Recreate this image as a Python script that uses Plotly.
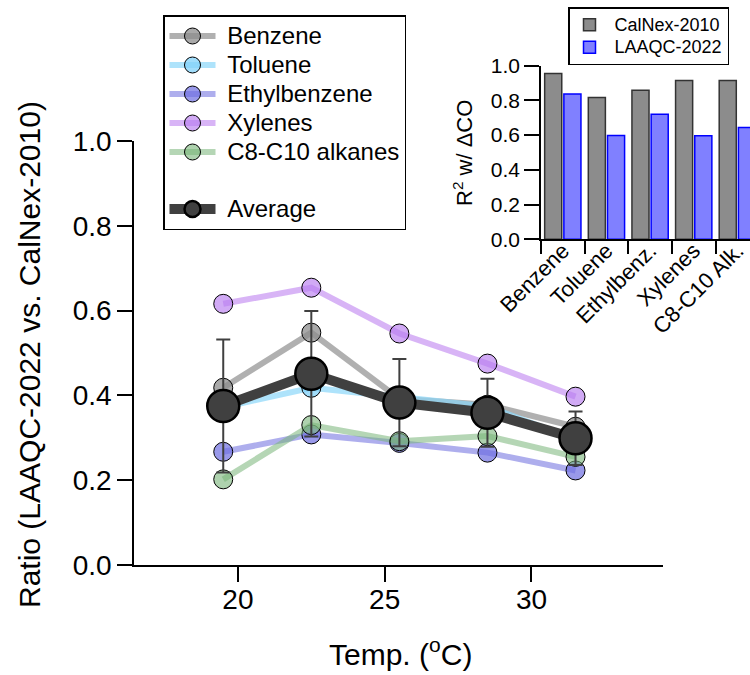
import plotly.graph_objects as go

# Temperature bins (deg C) and LAAQC-2022 / CalNex-2010 ratios per species
temps = [19.5, 22.5, 25.5, 28.5, 31.5]
benzene = [0.418, 0.548, 0.392, 0.378, 0.326]
toluene = [0.372, 0.418, 0.396, 0.374, 0.296]
ethylbenzene = [0.267, 0.308, 0.288, 0.265, 0.223]
xylenes = [0.616, 0.654, 0.546, 0.475, 0.397]
c8c10_alkanes = [0.202, 0.330, 0.292, 0.304, 0.255]
average = [0.375, 0.451, 0.383, 0.359, 0.299]
average_sd = [0.157, 0.148, 0.103, 0.080, 0.063]

# Inset: R^2 of each species against delta CO
inset_species = ["Benzene", "Toluene", "Ethylbenz.", "Xylenes", "C8-C10 Alk."]
r2_calnex = [0.955, 0.817, 0.858, 0.915, 0.915]
r2_laaqc = [0.837, 0.598, 0.721, 0.596, 0.644]

FONT = "Liberation Sans, Arial, Helvetica, sans-serif"
W, H = 750, 675


def px_x(p):
    return p / W


def px_y(p):
    return (H - p) / H


def big(label, size, pad=""):
    # legend rows keep a compact pitch while the label itself is drawn larger
    return f'<span style="font-size:{size}px">{pad}{label}</span>'


species = [
    ("Benzene", benzene, "rgba(150,150,150,0.75)", "rgba(140,140,140,0.75)"),
    ("Toluene", toluene, "rgba(140,215,250,0.7)", "rgba(130,210,250,0.75)"),
    ("Ethylbenzene", ethylbenzene, "rgba(120,120,225,0.6)", "rgba(110,110,225,0.7)"),
    ("Xylenes", xylenes, "rgba(190,130,240,0.6)", "rgba(185,125,240,0.65)"),
    ("C8-C10 alkanes", c8c10_alkanes, "rgba(120,180,120,0.55)", "rgba(120,180,120,0.6)"),
]

fig = go.Figure()

for name, vals, lcol, mcol in species:
    fig.add_trace(go.Scatter(
        x=temps, y=vals, name=big(name, 24, "\u00a0"), mode="lines+markers",
        line=dict(color=lcol, width=6),
        marker=dict(size=19, color=mcol, line=dict(color="black", width=1)),
        legendgroup="species", xaxis="x", yaxis="y",
    ))

fig.add_trace(go.Scatter(
    x=temps, y=average, name=big("Average", 24, "\u00a0"), mode="lines+markers",
    line=dict(color="#404040", width=10),
    marker=dict(size=32, color="#404040", line=dict(color="black", width=2.5)),
    error_y=dict(type="data", array=average_sd, color="#404040", thickness=2, width=7),
    legendgroup="avg", xaxis="x", yaxis="y",
))

# Inset bar chart
fig.add_trace(go.Bar(
    x=inset_species, y=r2_calnex, name=big("CalNex-2010", 18, "\u00a0"),
    marker=dict(color="#8c8c8c", line=dict(color="#333333", width=1.5)),
    xaxis="x2", yaxis="y2", legend="legend2",
))
fig.add_trace(go.Bar(
    x=inset_species, y=r2_laaqc, name=big("LAAQC-2022", 18, "\u00a0"),
    marker=dict(color="#8080ff", line=dict(color="#0000ff", width=1.5)),
    xaxis="x2", yaxis="y2", legend="legend2",
))

axis_common = dict(
    showline=True, linecolor="black", linewidth=1.5,
    ticks="outside", ticklen=15, tickwidth=1.5, tickcolor="black",
    showgrid=False, zeroline=False, automargin=False,
)

fig.update_layout(
    width=W, height=H,
    margin=dict(l=0, r=0, t=0, b=0, autoexpand=False),
    paper_bgcolor="white", plot_bgcolor="rgba(0,0,0,0)",
    font=dict(family=FONT, color="black"),
    barmode="group", bargap=0.12, bargroupgap=0.11,
    xaxis=dict(
        **axis_common, domain=[px_x(134), px_x(663)], range=[16.46, 34.48],
        tickvals=[20, 25, 30], tickfont=dict(size=28), anchor="y",
        ticklabelstandoff=-6,
    ),
    yaxis=dict(
        **axis_common, domain=[px_y(565), px_y(141)], range=[0, 1.0],
        tickvals=[0, 0.2, 0.4, 0.6, 0.8, 1.0], tickformat=".1f",
        tickfont=dict(size=28), anchor="x",
    ),
    xaxis2=dict(
        **{**axis_common, "ticklen": 13}, domain=[px_x(541), 1.0], range=[-0.5, 4.29],
        type="category", tickson="boundaries", tickangle=-45,
        tickfont=dict(size=22), anchor="y2", ticklabelstandoff=-12,
    ),
    yaxis2=dict(
        **axis_common, domain=[px_y(239.3), px_y(65.7)], range=[0, 1.0],
        tickvals=[0, 0.2, 0.4, 0.6, 0.8, 1.0], tickformat=".1f",
        tickfont=dict(size=21), anchor="x2",
    ),
    legend=dict(
        x=px_x(163), y=px_y(15), xanchor="left", yanchor="top",
        bordercolor="black", borderwidth=1.5, bgcolor="white",
        font=dict(size=20), traceorder="grouped", tracegroupgap=28,
        itemwidth=46,
    ),
    legend2=dict(
        x=px_x(568), y=px_y(7), xanchor="left", yanchor="top",
        bordercolor="black", borderwidth=1.5, bgcolor="white",
        font=dict(size=15),
    ),
    annotations=[
        dict(text="Ratio (LAAQC-2022 vs. CalNex-2010)", xref="paper", yref="paper",
             x=px_x(29), y=px_y(355), textangle=-90, showarrow=False,
             xanchor="center", yanchor="middle", font=dict(size=30)),
        dict(text="Temp. (<sup>o</sup>C)", xref="paper", yref="paper",
             x=px_x(400), y=px_y(652), showarrow=False,
             xanchor="center", yanchor="middle", font=dict(size=30)),
        dict(text="R<sup>2</sup> w/ \u0394CO", xref="paper", yref="paper",
             x=px_x(463), y=px_y(153), textangle=-90, showarrow=False,
             xanchor="center", yanchor="middle", font=dict(size=22)),
    ],
)

fig.write_html("out.html")
